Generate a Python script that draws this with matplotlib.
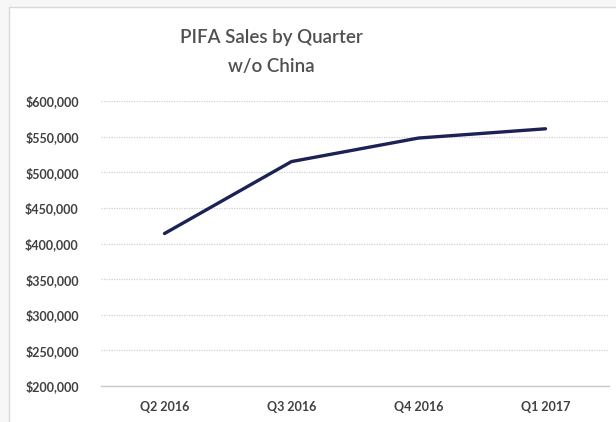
import matplotlib
matplotlib.use('Agg')
import matplotlib.pyplot as plt
from matplotlib.patches import Rectangle
from matplotlib.ticker import FuncFormatter

# Sales by quarter, China excluded
quarters = ['Q2 2016', 'Q3 2016', 'Q4 2016', 'Q1 2017']
sales = [414000, 515000, 548000, 561000]
y_ticks = [200000, 250000, 300000, 350000, 400000, 450000, 500000, 550000, 600000]

plt.rcParams['font.family'] = ['Lato', 'DejaVu Sans']

fig = plt.figure(figsize=(6.16, 4.22), dpi=100)
fig.patch.set_facecolor('#f7f7f7')

# chart area frame (Excel style)
frame = Rectangle((9 / 616, -0.02), 1.0, 1 - 7 / 422 + 0.02,
                  transform=fig.transFigure, facecolor='white',
                  edgecolor='#d9d9d9', linewidth=1.0, zorder=-10)
fig.patches.append(frame)

ax = fig.add_axes([101 / 616, 1 - 386 / 422, 508 / 616, 285 / 422])
ax.set_zorder(1)
ax.set_facecolor('none')

x = range(len(quarters))
ax.plot(x, sales, color='#1c2255', linewidth=2.4, solid_capstyle='round', zorder=3)

ax.set_xlim(-0.5, len(quarters) - 0.5)
ax.set_ylim(200000, 600000)
ax.set_yticks(y_ticks)
ax.yaxis.set_major_formatter(FuncFormatter(lambda v, p: f'${v:,.0f}'))
ax.set_xticks(list(x))
ax.set_xticklabels(quarters)

ax.grid(axis='y', color='#d0d0d0', linestyle=(0, (1, 1)), linewidth=0.9)
ax.set_axisbelow(True)
for side in ['top', 'right', 'left']:
    ax.spines[side].set_visible(False)
ax.spines['bottom'].set_color('#c8c8c8')
ax.spines['bottom'].set_linewidth(1.0)

ax.tick_params(axis='both', length=0, labelsize=9, labelcolor='#404040')
ax.tick_params(axis='y', pad=16)
ax.tick_params(axis='x', pad=11)
for lbl in ax.get_xticklabels() + ax.get_yticklabels():
    lbl.set_fontweight('bold')

fig.text(271 / 616, 1 - 52 / 422, 'PIFA Sales by Quarter\nw/o China', ha='center', va='center',
         fontsize=13.5, color='#505050', fontweight='semibold', linespacing=1.9)

fig.savefig('out.png', dpi=100, facecolor=fig.get_facecolor())
